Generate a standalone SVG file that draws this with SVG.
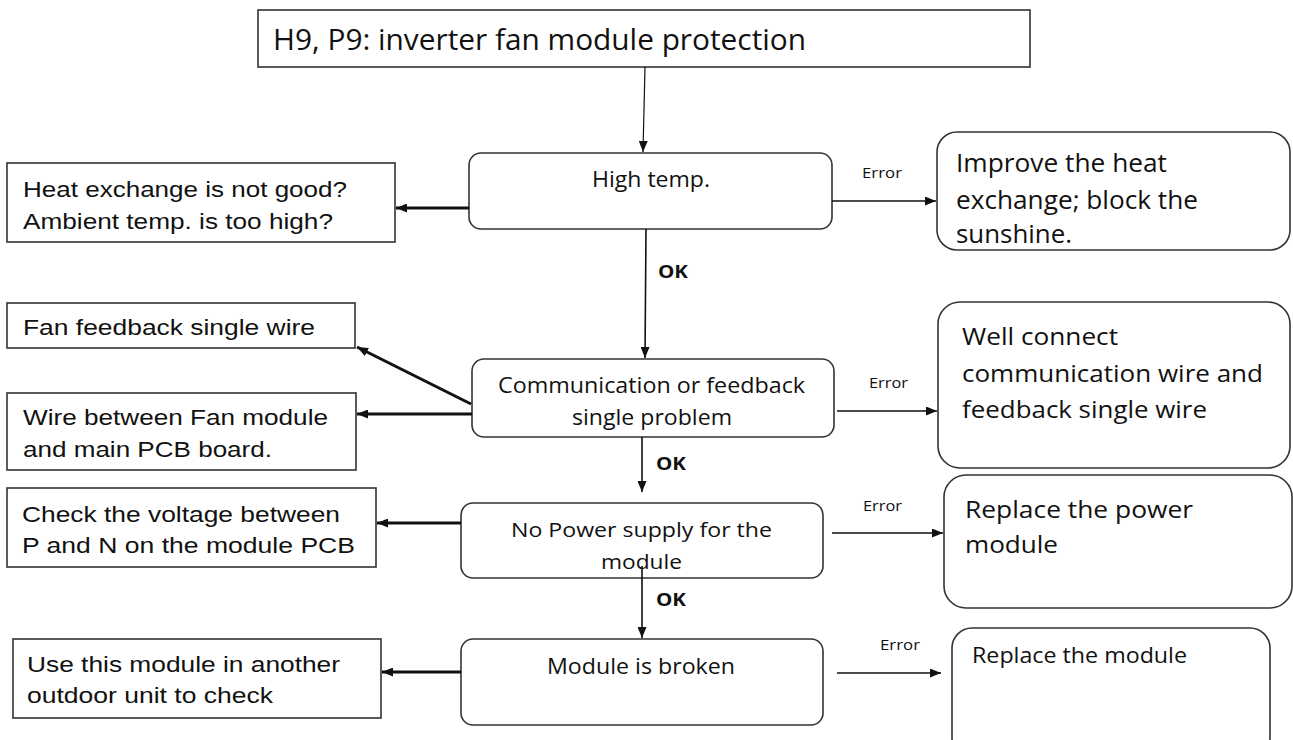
<svg xmlns="http://www.w3.org/2000/svg" width="1293" height="740" viewBox="0 0 1293 740">
<defs>
<style>
.box{fill:#fff;stroke:#333;stroke-width:1.6}
.ta{font-family:"Liberation Sans",Arial,sans-serif;font-size:22px;fill:#111}
.tc{font-family:"Open Sans","Noto Sans",sans-serif;fill:#111}
.c21{font-size:21px}.c20{font-size:20px}.c24{font-size:24px}.c25{font-size:25px}.c30{font-size:30px}
.err{font-family:"Open Sans","Noto Sans",sans-serif;font-size:14px;fill:#111}
.ok{font-family:"Open Sans","Noto Sans",sans-serif;font-size:18px;font-weight:bold;fill:#111}
.thin{stroke:#111;stroke-width:1.2;fill:none}
.mid{stroke:#111;stroke-width:1.6;fill:none}
.thick{stroke:#111;stroke-width:3;fill:none}
</style>
<marker id="ah" markerUnits="userSpaceOnUse" markerWidth="11" markerHeight="9" refX="11" refY="4.5" orient="auto">
<path d="M0,0 L11,4.5 L0,9 z" fill="#111"/>
</marker>
</defs>
<rect width="1293" height="740" fill="#fff"/>

<g id="title">
<rect class="box" x="258" y="10" width="772" height="57"/>
<text class="tc c30" x="273" y="50" textLength="533" lengthAdjust="spacingAndGlyphs">H9, P9: inverter fan module protection</text>
</g>

<g id="high-temp">
<rect class="box" x="469" y="153" width="363" height="76" rx="12"/>
<text class="tc c21" x="592" y="187" textLength="118" lengthAdjust="spacingAndGlyphs">High temp.</text>
</g>

<g id="comm">
<rect class="box" x="472" y="359" width="362" height="78" rx="12"/>
<text class="tc c21" x="498" y="393" textLength="307" lengthAdjust="spacingAndGlyphs">Communication or feedback</text>
<text class="tc c21" x="572" y="425" textLength="160" lengthAdjust="spacingAndGlyphs">single problem</text>
</g>

<g id="no-power">
<rect class="box" x="461" y="503" width="362" height="75" rx="12"/>
<text class="tc c20" x="511" y="537" textLength="261" lengthAdjust="spacingAndGlyphs">No Power supply for the</text>
<text class="tc c20" x="601" y="569" textLength="81" lengthAdjust="spacingAndGlyphs">module</text>
</g>

<g id="module-broken">
<rect class="box" x="461" y="639" width="362" height="86" rx="12"/>
<text class="tc c21" x="547" y="674" textLength="188" lengthAdjust="spacingAndGlyphs">Module is broken</text>
</g>

<g id="heat-exchange">
<rect class="box" x="7" y="163" width="388" height="79"/>
<text class="ta" x="23" y="197" textLength="324" lengthAdjust="spacingAndGlyphs">Heat exchange is not good?</text>
<text class="ta" x="23" y="229" textLength="310" lengthAdjust="spacingAndGlyphs">Ambient temp. is too high?</text>
</g>

<g id="fan-feedback">
<rect class="box" x="7" y="303" width="348" height="45"/>
<text class="ta" x="23" y="335" textLength="292" lengthAdjust="spacingAndGlyphs">Fan feedback single wire</text>
</g>

<g id="wire-between">
<rect class="box" x="7" y="393" width="349" height="77"/>
<text class="ta" x="23" y="425" textLength="305" lengthAdjust="spacingAndGlyphs">Wire between Fan module</text>
<text class="ta" x="23" y="457" textLength="249" lengthAdjust="spacingAndGlyphs">and main PCB board.</text>
</g>

<g id="check-voltage">
<rect class="box" x="7" y="488" width="369" height="79"/>
<text class="ta" x="22" y="522" textLength="318" lengthAdjust="spacingAndGlyphs">Check the voltage between</text>
<text class="ta" x="22" y="553" textLength="333" lengthAdjust="spacingAndGlyphs">P and N on the module PCB</text>
</g>

<g id="use-module">
<rect class="box" x="13" y="639" width="368" height="79"/>
<text class="ta" x="27" y="672" textLength="313" lengthAdjust="spacingAndGlyphs">Use this module in another</text>
<text class="ta" x="27" y="703" textLength="246" lengthAdjust="spacingAndGlyphs">outdoor unit to check</text>
</g>

<g id="improve-heat">
<rect class="box" x="937" y="132" width="353" height="118" rx="20"/>
<text class="tc c25" x="956" y="172" textLength="211" lengthAdjust="spacingAndGlyphs">Improve the heat</text>
<text class="tc c25" x="956" y="209" textLength="242" lengthAdjust="spacingAndGlyphs">exchange; block the</text>
<text class="tc c25" x="956" y="243" textLength="116" lengthAdjust="spacingAndGlyphs">sunshine.</text>
</g>

<g id="well-connect">
<rect class="box" x="938" y="302" width="352" height="166" rx="22"/>
<text class="tc c24" x="962" y="345" textLength="156" lengthAdjust="spacingAndGlyphs">Well connect</text>
<text class="tc c24" x="962" y="382" textLength="301" lengthAdjust="spacingAndGlyphs">communication wire and</text>
<text class="tc c24" x="962" y="418" textLength="245" lengthAdjust="spacingAndGlyphs">feedback single wire</text>
</g>

<g id="replace-power">
<rect class="box" x="944" y="475" width="348" height="133" rx="22"/>
<text class="tc c24" x="965" y="518" textLength="228" lengthAdjust="spacingAndGlyphs">Replace the power</text>
<text class="tc c24" x="965" y="553" textLength="93" lengthAdjust="spacingAndGlyphs">module</text>
</g>

<g id="replace-module">
<rect class="box" x="952" y="628" width="318" height="130" rx="20"/>
<text class="tc c21" x="972" y="663" textLength="215" lengthAdjust="spacingAndGlyphs">Replace the module</text>
</g>

<g id="connectors">
<line class="thin" x1="645" y1="67" x2="643" y2="152" marker-end="url(#ah)"/>
<line class="thick" x1="469" y1="208" x2="396" y2="208" marker-end="url(#ah)"/>
<line class="mid" x1="832" y1="201" x2="936" y2="201" marker-end="url(#ah)"/>
<line class="mid" x1="646" y1="229" x2="645" y2="358" marker-end="url(#ah)"/>
<line class="thick" x1="471" y1="404" x2="357" y2="347" marker-end="url(#ah)"/>
<line class="thick" x1="472" y1="414" x2="357" y2="414" marker-end="url(#ah)"/>
<line class="mid" x1="837" y1="411" x2="937" y2="411" marker-end="url(#ah)"/>
<line class="mid" x1="642" y1="437" x2="642" y2="492" marker-end="url(#ah)"/>
<line class="thick" x1="461" y1="523" x2="377" y2="523" marker-end="url(#ah)"/>
<line class="mid" x1="832" y1="533" x2="943" y2="533" marker-end="url(#ah)"/>
<line class="mid" x1="642" y1="566" x2="642" y2="638" marker-end="url(#ah)"/>
<line class="thick" x1="461" y1="672" x2="382" y2="672" marker-end="url(#ah)"/>
<line class="mid" x1="837" y1="673" x2="941" y2="673" marker-end="url(#ah)"/>
<text class="err" x="862" y="178" textLength="40" lengthAdjust="spacingAndGlyphs">Error</text>
<text class="err" x="869" y="388" textLength="39" lengthAdjust="spacingAndGlyphs">Error</text>
<text class="err" x="863" y="511" textLength="39" lengthAdjust="spacingAndGlyphs">Error</text>
<text class="err" x="880" y="650" textLength="40" lengthAdjust="spacingAndGlyphs">Error</text>
<text class="ok" x="658" y="278" textLength="30" lengthAdjust="spacingAndGlyphs">OK</text>
<text class="ok" x="656" y="470" textLength="30" lengthAdjust="spacingAndGlyphs">OK</text>
<text class="ok" x="656" y="606" textLength="30" lengthAdjust="spacingAndGlyphs">OK</text>
</g>
</svg>
